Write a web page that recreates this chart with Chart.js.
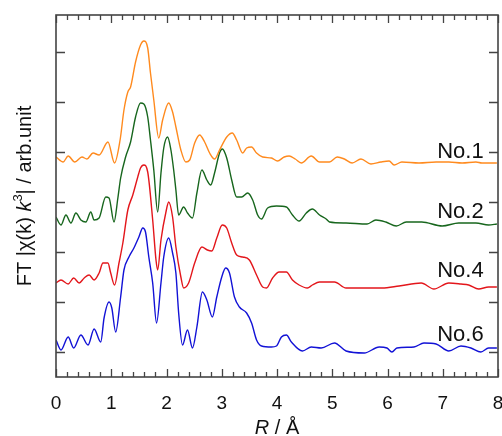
<!DOCTYPE html>
<html>
<head>
<meta charset="utf-8">
<script src="https://cdn.jsdelivr.net/npm/chart.js@4.4.1/dist/chart.umd.min.js"></script>
<style>
  html, body { margin: 0; padding: 0; background: #fff; }
  #wrap { width: 502px; height: 436px; }
</style>
</head>
<body>
<div id="wrap"><canvas id="ftChart" width="502" height="436"></canvas></div>
<script>
// R (A) positions and offset FT magnitudes (arb. units)
const r1 = [0, 0.13, 0.22, 0.34, 0.47, 0.56, 0.67, 0.78, 0.94, 1.06, 1.16, 1.23, 1.30, 1.35, 1.44, 1.53, 1.59, 1.66, 1.71, 1.77, 1.86, 1.93, 2.04, 2.11, 2.17, 2.26, 2.35, 2.42, 2.51, 2.60, 2.69, 2.78, 2.87, 2.96, 3.09, 3.19, 3.27, 3.38, 3.45, 3.54, 3.63, 3.74, 3.90, 4.01, 4.13, 4.22, 4.33, 4.44, 4.62, 4.77, 4.95, 5.09, 5.22, 5.36, 5.52, 5.70, 5.88, 6.03, 6.12, 6.26, 6.57, 6.88, 7.11, 7.35, 7.60, 7.71, 7.98];
const no1 = [44, 43, 44.2, 43, 44, 43.6, 44.8, 44.4, 47, 42.8, 47.4, 53.4, 57, 58, 63, 66.4, 67.2, 65.8, 60.8, 55.4, 47.8, 51.4, 54.8, 53, 50, 45.4, 43, 43.4, 46.8, 48.4, 47, 44.8, 43.6, 45.4, 48, 48.8, 47.4, 44.8, 45.8, 46, 44.8, 44, 43.8, 43.2, 44, 44.2, 43.6, 42.8, 44.2, 43, 43, 44, 43.6, 42.8, 43.6, 42.6, 43, 43.2, 42.4, 43, 42.8, 43, 43, 42.8, 43, 42.8, 42.8];

const r2 = [0, 0.09, 0.18, 0.27, 0.36, 0.45, 0.54, 0.63, 0.69, 0.78, 0.90, 0.96, 1.05, 1.12, 1.17, 1.26, 1.35, 1.44, 1.53, 1.59, 1.66, 1.71, 1.77, 1.84, 1.90, 1.95, 2.02, 2.08, 2.13, 2.17, 2.22, 2.31, 2.38, 2.47, 2.55, 2.64, 2.73, 2.80, 2.87, 2.96, 3.01, 3.09, 3.18, 3.27, 3.36, 3.47, 3.56, 3.65, 3.72, 3.83, 3.99, 4.17, 4.28, 4.40, 4.53, 4.64, 4.77, 4.89, 4.95, 5.25, 5.63, 5.79, 5.97, 6.16, 6.34, 6.62, 6.99, 7.29, 7.60, 7.83, 7.98];
const no2 = [32, 30.4, 32.4, 30.8, 32.8, 31.4, 31, 33, 31.4, 31.8, 36, 35.8, 31, 35.8, 39.8, 44, 47, 52, 54.8, 54.6, 52, 47.4, 41.4, 33, 40.8, 45.8, 48, 45.4, 41.4, 37.4, 32.4, 34, 32.8, 31.8, 36.8, 41.4, 39.4, 38.4, 40.8, 44.8, 45.6, 43.8, 39.4, 36, 36, 36.8, 35.4, 32.4, 31.6, 33.8, 34.2, 34, 32.4, 31.2, 32.8, 33.6, 32.4, 31.6, 31, 30.8, 30.6, 31.4, 31, 30.2, 31, 31, 30.2, 30.8, 30.8, 30.4, 30.6];

const r4 = [0, 0.09, 0.22, 0.32, 0.42, 0.51, 0.60, 0.69, 0.78, 0.85, 0.94, 0.99, 1.06, 1.14, 1.21, 1.30, 1.39, 1.48, 1.53, 1.59, 1.66, 1.75, 1.81, 1.84, 1.90, 1.99, 2.04, 2.11, 2.17, 2.26, 2.31, 2.40, 2.51, 2.64, 2.74, 2.82, 2.91, 3.01, 3.09, 3.18, 3.27, 3.38, 3.50, 3.63, 3.74, 3.81, 3.92, 4.04, 4.17, 4.28, 4.40, 4.55, 4.64, 4.77, 5.04, 5.25, 5.61, 5.90, 6.21, 6.61, 6.84, 7.11, 7.33, 7.47, 7.65, 7.83, 7.98];
const no4 = [18.8, 19.4, 18.6, 19.8, 18.8, 19.8, 20.4, 19.4, 20.8, 22.8, 22.8, 20.8, 18.4, 22.8, 26.8, 33.4, 36.4, 40, 41.8, 42.4, 41, 31.4, 23.4, 21.4, 27.4, 33, 35, 32, 26, 20, 17.8, 18.8, 22.8, 26, 25.4, 25.2, 27.8, 30.4, 29.8, 26.8, 24.4, 24, 23.4, 20.4, 18, 17.8, 19.8, 21, 21, 19.4, 18.4, 17.8, 18.4, 19, 19, 17.8, 17.8, 17.8, 18.2, 18.8, 17.6, 18.8, 18.6, 18.4, 17.6, 18, 18];

const r6 = [0, 0.09, 0.22, 0.32, 0.45, 0.58, 0.69, 0.81, 0.87, 0.96, 1.01, 1.08, 1.17, 1.23, 1.32, 1.41, 1.50, 1.57, 1.62, 1.68, 1.75, 1.82, 1.90, 1.95, 2.04, 2.11, 2.17, 2.22, 2.29, 2.38, 2.47, 2.55, 2.65, 2.73, 2.83, 2.91, 3.00, 3.07, 3.14, 3.23, 3.32, 3.45, 3.54, 3.63, 3.72, 3.90, 3.99, 4.08, 4.17, 4.26, 4.46, 4.62, 4.80, 5.04, 5.25, 5.58, 5.85, 5.99, 6.08, 6.17, 6.48, 6.66, 6.88, 7.11, 7.33, 7.51, 7.69, 7.83, 7.98];
const no6 = [7.4, 5.4, 8, 5.8, 8.4, 6.4, 9.6, 7, 11.8, 15, 13.8, 9, 16, 21.4, 24, 25.8, 28, 29.8, 29, 24, 18.8, 10.8, 18.8, 24, 27.8, 24.8, 20.8, 12.8, 6.4, 9.4, 5.8, 10, 17, 15.4, 12, 16, 20, 21.8, 20.8, 16, 14, 12.8, 10.8, 7.4, 6.2, 6, 6.2, 8, 8.4, 7, 5.2, 6, 5.8, 6.8, 5.2, 4.8, 6, 5.8, 5, 5.8, 6, 6.8, 6.6, 5.2, 6.2, 5.8, 5, 5.8, 5.8];

const xTicks = [0, 1, 2, 3, 4, 5, 6, 7, 8];
const yTicks = [5, 15, 25, 35, 45, 55, 65];
const sampleNames = ["No.1", "No.2", "No.4", "No.6"];
const labelY = [45, 33, 21.2, 8.4];

const FONT = "'Liberation Sans', Arial, sans-serif";
const AXIS = "#444";

function pairs(xs, ys) {
  return xs.map(function (x, i) { return { x: x, y: ys[i] }; });
}

function serie(name, xs, ys, color) {
  return {
    label: name,
    data: pairs(xs, ys),
    borderColor: color,
    backgroundColor: color,
    borderWidth: 1.4,
    pointRadius: 0,
    pointHoverRadius: 0,
    cubicInterpolationMode: "monotone",
  };
}

// frame, inward ticks, titles and sample names
const decor = {
  id: "decor",
  afterDraw(chart) {
    const ctx = chart.ctx;
    const a = chart.chartArea;
    const xs = chart.scales.x;
    const ys = chart.scales.y;
    ctx.save();
    ctx.strokeStyle = AXIS;
    ctx.lineWidth = 1.6;
    ctx.strokeRect(a.left, a.top, a.right - a.left, a.bottom - a.top);

    ctx.lineWidth = 1.3;
    ctx.beginPath();
    for (let i = 0; i <= 40; i++) {
      const v = i * 0.2;
      const px = Math.round(xs.getPixelForValue(v)) + 0.5;
      const len = i % 5 === 0 ? 8 : 5;
      ctx.moveTo(px, a.bottom);
      ctx.lineTo(px, a.bottom - len);
      ctx.moveTo(px, a.top);
      ctx.lineTo(px, a.top + len);
    }
    yTicks.forEach(function (v) {
      const py = Math.round(ys.getPixelForValue(v)) + 0.5;
      ctx.moveTo(a.left, py);
      ctx.lineTo(a.left + 9, py);
      ctx.moveTo(a.right, py);
      ctx.lineTo(a.right - 9, py);
    });
    ctx.stroke();

    // sample names
    ctx.fillStyle = "#111";
    ctx.font = "22px " + FONT;
    ctx.textAlign = "right";
    ctx.textBaseline = "middle";
    sampleNames.forEach(function (n, i) {
      ctx.fillText(n, xs.getPixelForValue(7.74), ys.getPixelForValue(labelY[i]));
    });

    // x title: R / Å
    const parts = [
      { t: "R", f: "italic 20px " + FONT },
      { t: " / \u00c5", f: "20px " + FONT },
    ];
    drawParts(ctx, parts, (a.left + a.right) / 2, 428);

    // y title, rotated
    ctx.save();
    ctx.translate(25, (a.top + a.bottom) / 2);
    ctx.rotate(-Math.PI / 2);
    const yparts = [
      { t: "FT |\u03c7(k) ", f: "20px " + FONT },
      { t: "k", f: "italic 20px " + FONT },
      { t: "3", f: "13px " + FONT, dy: -7 },
      { t: "| / arb.unit", f: "20px " + FONT },
    ];
    drawParts(ctx, yparts, 0, 0);
    ctx.restore();
    ctx.restore();
  },
};

function drawParts(ctx, parts, cx, cy) {
  let total = 0;
  parts.forEach(function (p) {
    ctx.font = p.f;
    p.w = ctx.measureText(p.t).width;
    total += p.w;
  });
  let x = cx - total / 2;
  ctx.textAlign = "left";
  ctx.textBaseline = "middle";
  ctx.fillStyle = "#111";
  parts.forEach(function (p) {
    ctx.font = p.f;
    ctx.fillText(p.t, x, cy + (p.dy || 0));
    x += p.w;
  });
}

new Chart(document.getElementById("ftChart"), {
  type: "line",
  data: {
    datasets: [
      serie(sampleNames[0], r1, no1, "#ff8a1e"),
      serie(sampleNames[1], r2, no2, "#17661d"),
      serie(sampleNames[2], r4, no4, "#e3161b"),
      serie(sampleNames[3], r6, no6, "#1212d6"),
    ],
  },
  options: {
    responsive: false,
    animation: false,
    layout: { padding: { top: 15, right: 4, left: 0, bottom: 0 } },
    plugins: { legend: { display: false }, tooltip: { enabled: false } },
    scales: {
      x: {
        type: "linear",
        min: 0,
        max: 8,
        grid: { display: false },
        border: { display: false },
        afterBuildTicks: function (s) { s.ticks = xTicks.map(function (v) { return { value: v }; }); },
        afterFit: function (s) { s.height = 59; s.paddingLeft = 0; s.paddingRight = 0; },
        ticks: { color: "#111", font: { family: FONT, size: 19 }, padding: 7, maxRotation: 0 },
      },
      y: {
        min: 0,
        max: 72.4,
        grid: { display: false },
        border: { display: false },
        afterBuildTicks: function (s) { s.ticks = yTicks.map(function (v) { return { value: v }; }); },
        afterFit: function (s) { s.width = 56; s.paddingTop = 0; s.paddingBottom = 0; },
        ticks: { display: false },
      },
    },
  },
  plugins: [decor],
});
</script>
</body>
</html>
